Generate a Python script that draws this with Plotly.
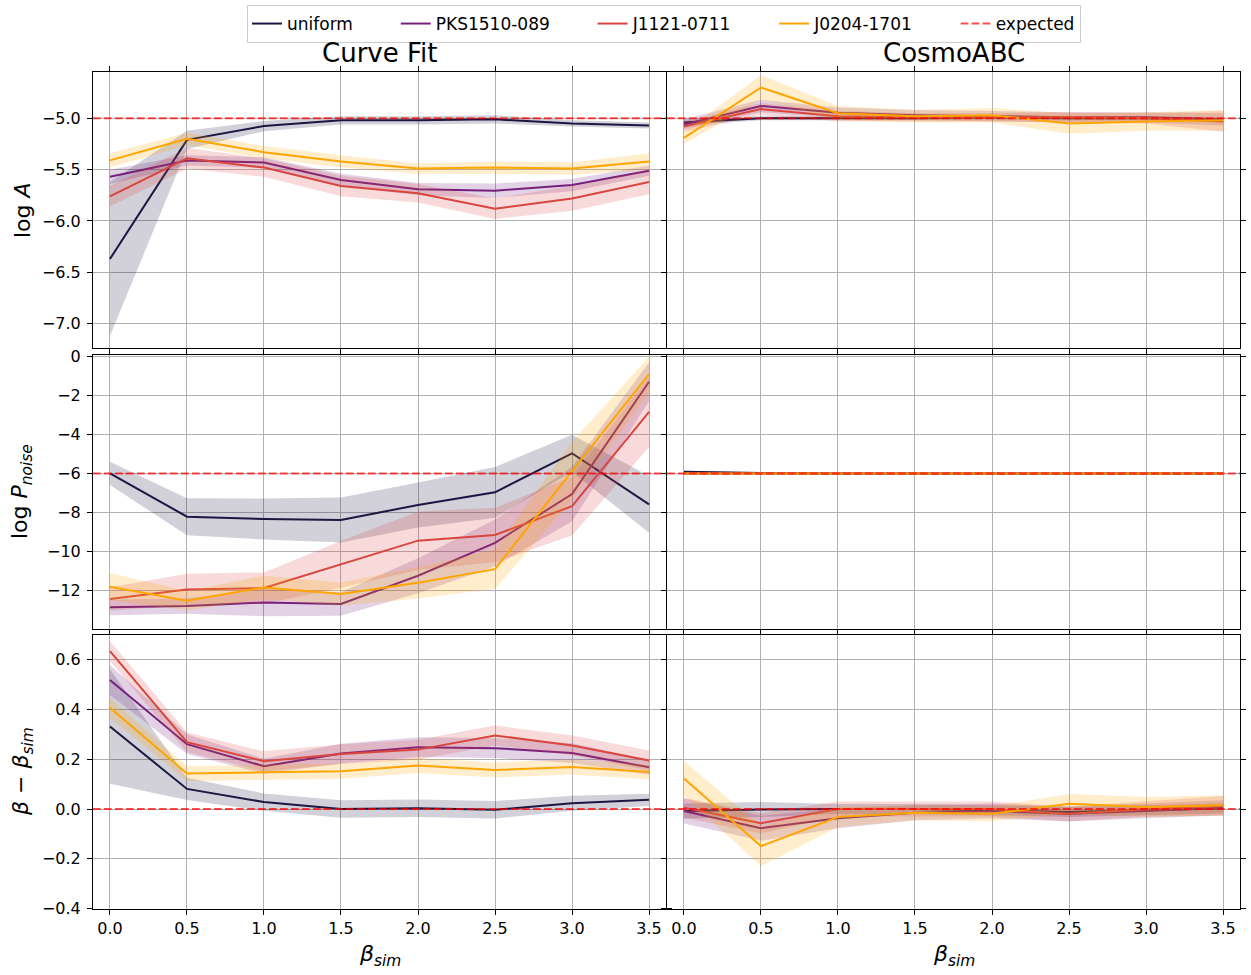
import plotly.graph_objects as go

# Simulated spectral index values
beta_sim = [0.0, 0.5, 1.0, 1.5, 2.0, 2.5, 3.0, 3.5]

series_names = ["uniform", "PKS1510-089", "J1121-0711", "J0204-1701"]
series_colors = ["#1c1641", "#74207c", "#d8463f", "#ffa500"]
band_colors = ["rgba(28,22,65,0.2)", "rgba(116,32,124,0.2)",
               "rgba(216,70,63,0.2)", "rgba(255,165,0,0.2)"]
expected_color = "rgba(255,0,0,0.7)"

# Expected values per row (log A, log P_noise, beta - beta_sim)
expected = [-5.0, -6.0, 0.0]

# ---- log A ----
cf_logA_mean = [
    [-6.37, -5.21, -5.075, -5.02, -5.02, -5.01, -5.05, -5.07],
    [-5.57, -5.41, -5.43, -5.60, -5.69, -5.705, -5.65, -5.51],
    [-5.76, -5.39, -5.48, -5.66, -5.73, -5.88, -5.78, -5.62],
    [-5.41, -5.20, -5.33, -5.42, -5.49, -5.48, -5.49, -5.42],
]
cf_logA_err = [
    [0.75, 0.09, 0.05, 0.04, 0.04, 0.04, 0.03, 0.03],
    [0.07, 0.05, 0.05, 0.06, 0.06, 0.07, 0.06, 0.05],
    [0.10, 0.10, 0.09, 0.10, 0.09, 0.10, 0.12, 0.12],
    [0.07, 0.06, 0.06, 0.06, 0.05, 0.06, 0.06, 0.08],
]
abc_logA_mean = [
    [-5.04, -5.0, -5.0, -5.0, -4.99, -5.0, -5.0, -5.01],
    [-5.06, -4.88, -4.945, -4.97, -4.98, -4.99, -4.99, -5.01],
    [-5.08, -4.91, -4.98, -4.99, -4.99, -4.99, -5.0, -5.03],
    [-5.19, -4.70, -4.95, -4.98, -4.97, -5.05, -5.03, -5.02],
]
abc_logA_err = [
    [0.03, 0.02, 0.02, 0.02, 0.02, 0.02, 0.02, 0.02],
    [0.05, 0.06, 0.05, 0.05, 0.05, 0.05, 0.05, 0.06],
    [0.05, 0.06, 0.05, 0.04, 0.04, 0.05, 0.05, 0.10],
    [0.06, 0.12, 0.07, 0.06, 0.07, 0.10, 0.09, 0.10],
]

# ---- log P_noise ----
cf_logP_mean = [
    [-6.0, -8.22, -8.34, -8.39, -7.62, -6.97, -4.97, -7.59],
    [-12.87, -12.80, -12.62, -12.70, -11.25, -9.56, -7.06, -1.30],
    [-12.44, -11.95, -11.88, -10.67, -9.45, -9.16, -7.68, -2.85],
    [-11.81, -12.53, -11.85, -12.19, -11.61, -10.91, -5.88, -0.91],
]
cf_logP_err = [
    [0.6, 0.95, 1.05, 1.15, 1.15, 1.3, 0.95, 1.45],
    [0.4, 0.4, 0.7, 0.6, 0.9, 1.2, 1.4, 1.0],
    [0.6, 0.8, 0.8, 1.2, 1.5, 1.4, 1.5, 1.8],
    [0.7, 0.5, 0.6, 0.6, 0.8, 1.0, 1.5, 0.9],
]
abc_logP_mean = [
    [-5.92, -5.98, -6.0, -6.0, -6.0, -5.99, -5.99, -6.0],
    [-6.0, -6.0, -6.0, -6.0, -6.0, -6.0, -6.0, -6.0],
    [-6.0, -6.0, -6.0, -6.0, -6.0, -6.0, -6.0, -6.0],
    [-6.0, -6.0, -6.0, -6.0, -6.0, -6.0, -6.0, -6.0],
]
abc_logP_err = [
    [0.05, 0.03, 0.02, 0.02, 0.02, 0.02, 0.02, 0.02],
    [0.03, 0.02, 0.02, 0.02, 0.02, 0.02, 0.02, 0.02],
    [0.03, 0.02, 0.02, 0.02, 0.02, 0.02, 0.02, 0.02],
    [0.03, 0.02, 0.02, 0.02, 0.02, 0.02, 0.02, 0.02],
]

# ---- beta - beta_sim ----
cf_dbeta_mean = [
    [0.332, 0.081, 0.028, 0.0, 0.003, -0.003, 0.023, 0.037],
    [0.519, 0.261, 0.172, 0.223, 0.249, 0.245, 0.225, 0.168],
    [0.635, 0.269, 0.192, 0.221, 0.239, 0.296, 0.256, 0.195],
    [0.407, 0.143, 0.148, 0.152, 0.175, 0.157, 0.169, 0.149],
]
cf_dbeta_err = [
    [0.23, 0.045, 0.035, 0.035, 0.035, 0.035, 0.03, 0.025],
    [0.06, 0.04, 0.03, 0.04, 0.04, 0.04, 0.04, 0.03],
    [0.04, 0.04, 0.04, 0.04, 0.04, 0.04, 0.04, 0.04],
    [0.04, 0.03, 0.03, 0.03, 0.03, 0.03, 0.03, 0.03],
]
abc_dbeta_mean = [
    [-0.008, -0.002, 0.0, 0.0, -0.005, -0.012, -0.005, 0.002],
    [-0.008, -0.077, -0.037, -0.015, -0.008, -0.019, -0.008, 0.005],
    [0.005, -0.057, 0.0, 0.0, 0.0, -0.02, 0.0, 0.012],
    [0.123, -0.149, -0.032, -0.015, -0.019, 0.021, 0.008, 0.015],
]
abc_dbeta_err = [
    [0.03, 0.03, 0.02, 0.02, 0.02, 0.02, 0.02, 0.02],
    [0.05, 0.05, 0.04, 0.03, 0.03, 0.03, 0.03, 0.03],
    [0.04, 0.04, 0.03, 0.03, 0.03, 0.03, 0.03, 0.04],
    [0.07, 0.08, 0.04, 0.03, 0.03, 0.04, 0.04, 0.04],
]

panels = [
    [(cf_logA_mean, cf_logA_err), (abc_logA_mean, abc_logA_err)],
    [(cf_logP_mean, cf_logP_err), (abc_logP_mean, abc_logP_err)],
    [(cf_dbeta_mean, cf_dbeta_err), (abc_dbeta_mean, abc_dbeta_err)],
]

col_titles = ["Curve Fit", "CosmoABC"]
row_titles = ["log <i>A</i>", "log <i>P</i><sub><i>noise</i></sub>",
              "<i>β</i> − <i>β</i><sub><i>sim</i></sub>"]
row_ranges = [[-7.237, -4.549], [-13.98, 0.07], [-0.402, 0.70]]
row_ticks = [
    [-7.0, -6.5, -6.0, -5.5, -5.0],
    [-12, -10, -8, -6, -4, -2, 0],
    [-0.4, -0.2, 0.0, 0.2, 0.4, 0.6],
]
row_tickformat = [".1f", "d", ".1f"]
x_range = [-0.11, 3.61]

W, H = 1251, 975
col_px = [(93, 666), (667, 1240)]
row_px = [(72, 348), (355, 629), (635, 909)]

# Non-breaking padding widens the gap between legend entries
pad = "\u00a0" * 7

fig = go.Figure()
layout = dict(
    width=W, height=H,
    margin=dict(l=0, r=0, t=0, b=0, autoexpand=False),
    paper_bgcolor="white", plot_bgcolor="white",
    font=dict(family="DejaVu Sans", size=16, color="black"),
    showlegend=True,
    legend=dict(
        orientation="h", x=664 / W, xanchor="center", y=1 - 5 / H, yanchor="top",
        bordercolor="#cccccc", borderwidth=1, bgcolor="white",
        font=dict(size=17), itemwidth=30,
    ),
    shapes=[], annotations=[],
)

axis_style = dict(
    showgrid=True, gridcolor="#b0b0b0", gridwidth=1,
    showline=True, linecolor="black", linewidth=1, mirror="allticks",
    ticks="outside", ticklen=5, tickcolor="black", tickwidth=1,
    zeroline=False, tickfont=dict(size=16), automargin=False,
)

for r in range(3):
    for c in range(2):
        p = r * 2 + c + 1
        suffix = "" if p == 1 else str(p)
        xa, ya = "x" + suffix, "y" + suffix
        xkey, ykey = "xaxis" + suffix, "yaxis" + suffix
        x0, x1 = col_px[c]
        y0, y1 = row_px[r]
        layout[xkey] = dict(
            axis_style, domain=[x0 / W, x1 / W], range=x_range, anchor=ya,
            tickvals=beta_sim, tickformat=".1f", showticklabels=(r == 2),
        )
        layout[ykey] = dict(
            axis_style, domain=[1 - y1 / H, 1 - y0 / H], range=row_ranges[r],
            anchor=xa, tickvals=row_ticks[r], tickformat=row_tickformat[r],
            showticklabels=(c == 0), ticklabelstandoff=3,
        )
        means, errs = panels[r][c]
        for i, name in enumerate(series_names):
            m, e = means[i], errs[i]
            upper = [a + b for a, b in zip(m, e)]
            lower = [a - b for a, b in zip(m, e)]
            fig.add_trace(go.Scatter(
                x=beta_sim + beta_sim[::-1], y=upper + lower[::-1],
                fill="toself", fillcolor=band_colors[i],
                line=dict(width=0), mode="lines", hoverinfo="skip",
                showlegend=False, xaxis=xa, yaxis=ya,
            ))
            fig.add_trace(go.Scatter(
                x=beta_sim, y=m, mode="lines", name=name + pad,
                line=dict(color=series_colors[i], width=2),
                showlegend=(p == 1), legendgroup=name, xaxis=xa, yaxis=ya,
            ))
        layout["shapes"].append(dict(
            type="line", xref=f"{xa} domain", yref=ya, x0=0, x1=1,
            y0=expected[r], y1=expected[r], layer="above",
            line=dict(color=expected_color, width=2, dash="7.7px,3.3px"),
        ))

# Legend entry for the expected reference line
fig.add_trace(go.Scatter(
    x=[None], y=[None], mode="lines", name="expected",
    line=dict(color=expected_color, width=2, dash="7.7px,3.3px"),
    xaxis="x", yaxis="y",
))

# Column titles and x-axis labels
for c in range(2):
    x0, x1 = col_px[c]
    layout["annotations"].append(dict(
        text=col_titles[c], x=(x0 + x1) / 2 / W, y=1 - 53 / H,
        xref="paper", yref="paper", xanchor="center", yanchor="middle",
        showarrow=False, font=dict(size=26),
    ))
    layout["annotations"].append(dict(
        text="<i>β</i><sub><i>sim</i></sub>", x=(x0 + x1) / 2 / W, y=1 - 955 / H,
        xref="paper", yref="paper", xanchor="center", yanchor="middle",
        showarrow=False, font=dict(size=22),
    ))

# Row titles
for r in range(3):
    y0, y1 = row_px[r]
    layout["annotations"].append(dict(
        text=row_titles[r], x=22 / W, y=1 - (y0 + y1) / 2 / H,
        xref="paper", yref="paper", xanchor="center", yanchor="middle",
        textangle=-90, showarrow=False, font=dict(size=22),
    ))

fig.update_layout(**layout)
fig.write_html("out.html")
